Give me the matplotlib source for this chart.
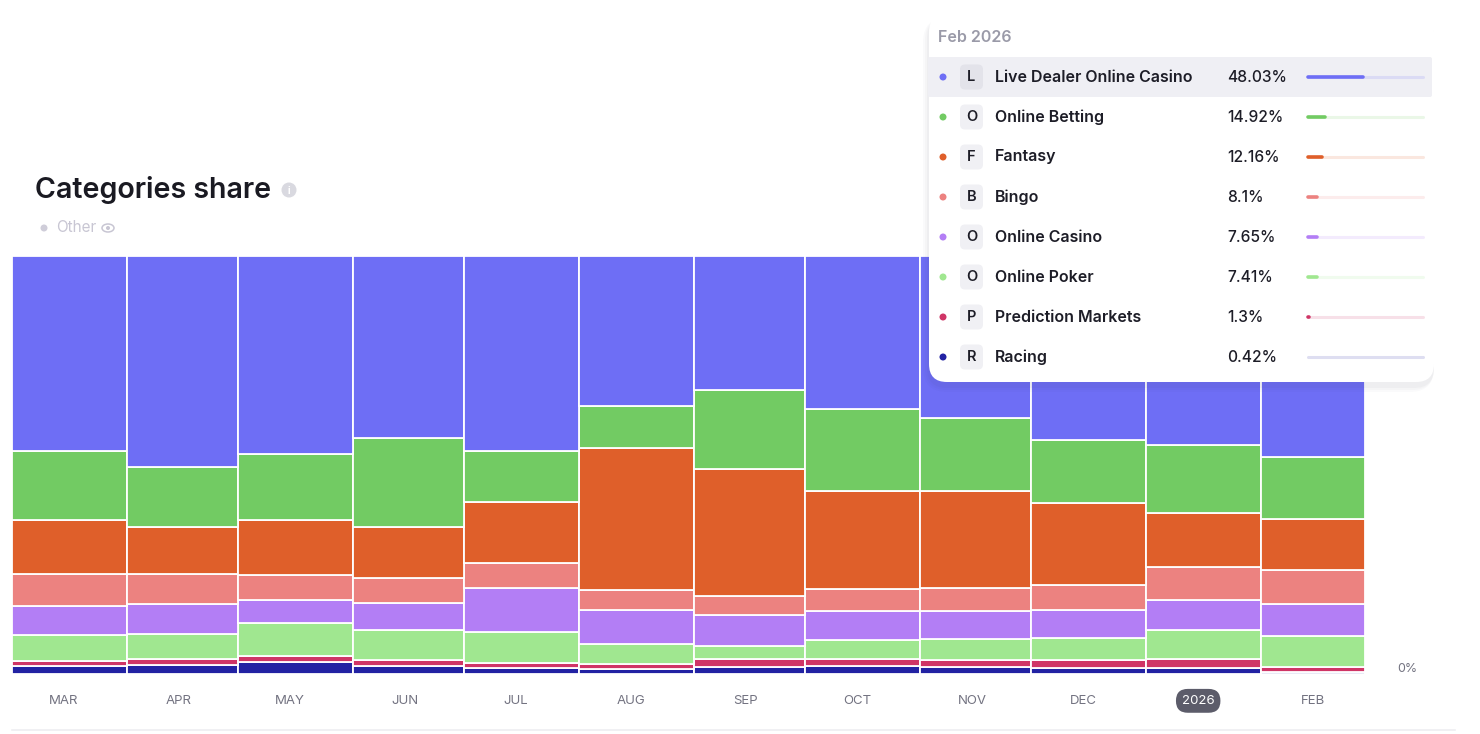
import datetime as dt
import numpy as np
import matplotlib
matplotlib.use("Agg")
import matplotlib.pyplot as plt
import matplotlib.dates as mdates
import matplotlib.transforms as mtransforms
from matplotlib.patches import FancyBboxPatch, Circle, Ellipse

plt.rcParams['font.family'] = ['Inter', 'DejaVu Sans']

# ---- data (share in %, Mar 2025 .. Feb 2026) ----
month_starts = [dt.date(2025, m, 1) for m in range(3, 13)] + [dt.date(2026, 1, 1), dt.date(2026, 2, 1)]
period_end = dt.date(2026, 3, 1)
month_labels = ["MAR", "APR", "MAY", "JUN", "JUL", "AUG", "SEP", "OCT", "NOV", "DEC", "2026", "FEB"]

racing        = [1.8, 2.1, 2.9, 2.0, 1.4, 1.1, 1.7, 1.9, 1.7, 1.5, 1.4, 0.42]
prediction    = [1.2, 1.4, 1.4, 1.4, 1.3, 1.2, 1.9, 1.7, 1.7, 1.8, 2.2, 1.3]
online_poker  = [6.4, 6.0, 7.9, 7.2, 7.3, 4.8, 3.1, 4.5, 5.0, 5.3, 6.9, 7.41]
online_casino = [6.9, 7.3, 5.6, 6.3, 10.6, 8.1, 7.5, 6.9, 6.6, 6.6, 7.2, 7.65]
bingo         = [7.6, 7.2, 6.0, 6.0, 6.0, 4.8, 4.5, 5.3, 5.6, 6.1, 7.9, 8.1]
fantasy       = [13.0, 11.3, 13.0, 12.3, 14.5, 34.1, 30.2, 23.4, 23.1, 19.5, 12.8, 12.16]
online_bet    = [16.4, 14.4, 15.9, 21.3, 12.1, 10.0, 18.8, 19.7, 17.5, 15.1, 16.3, 14.92]
live_dealer   = [46.8, 50.5, 47.4, 43.6, 46.7, 35.9, 32.1, 36.6, 38.8, 43.9, 45.2, 48.03]

# bottom -> top
series = [racing, prediction, online_poker, online_casino, bingo, fantasy, online_bet, live_dealer]
colors = ["#2222A3", "#CF3566", "#A0E790", "#B37EF5", "#EC8280", "#DF5F2A", "#72CB63", "#6E6EF5"]

# tooltip (Feb 2026), top -> bottom
tip_names = ["Live Dealer Online Casino", "Online Betting", "Fantasy", "Bingo",
             "Online Casino", "Online Poker", "Prediction Markets", "Racing"]
tip_letters = ["L", "O", "F", "B", "O", "O", "P", "R"]
tip_labels = ["48.03%", "14.92%", "12.16%", "8.1%", "7.65%", "7.41%", "1.3%", "0.42%"]
tip_values = [s[-1] for s in series[::-1]]
tip_colors = colors[::-1]

W, H = 1480, 734
fig = plt.figure(figsize=(W / 100, H / 100), dpi=100)
fig.patch.set_facecolor("white")

# ---- stacked share bars (widths follow month lengths) ----
ax = fig.add_axes([12 / W, (H - 674) / H, 1353 / W, 418 / H])
vals = np.array(series, dtype=float)
vals = vals / vals.sum(axis=0) * 100
left = mdates.date2num(month_starts)
right = mdates.date2num(month_starts[1:] + [period_end])
widths = right - left
bottom = np.zeros(len(month_starts))
for v, c in zip(vals, colors):
    ax.bar(left, v, width=widths, bottom=bottom, align="edge", color=c,
           edgecolor="white", linewidth=1.3)
    bottom += v

ax.set_xlim(left[0], right[-1])
ax.set_ylim(0, 100)
for s in ax.spines.values():
    s.set_visible(False)
ax.set_yticks([])
# month labels sit on the 15th
ax.set_xticks(left + 14)
ax.set_xticklabels(month_labels)
ax.tick_params(axis="x", length=0, pad=15, labelsize=9.5, labelcolor="#737381")
for lab in ax.get_xticklabels():
    if lab.get_text() == "2026":
        lab.set_color("white")
        lab.set_bbox(dict(boxstyle="round,pad=0.45,rounding_size=0.9", fc="#5C5C6A", ec="none"))

ax.text(1.0, 0, "0%", transform=mtransforms.offset_copy(ax.transAxes, fig, x=32, y=5, units="dots"),
        ha="left", va="center", fontsize=9, color="#737381")

# ---- overlay in pixel coordinates ----
ov = fig.add_axes([0, 0, 1, 1], zorder=10)
ov.set_xlim(0, W)
ov.set_ylim(H, 0)
ov.axis("off")
ov.patch.set_alpha(0)

# title + legend
ov.text(35, 190, "Categories share", fontsize=20.6, fontweight="semibold", color="#1A1A22",
        ha="left", va="center")
ov.add_patch(Circle((289, 190), 7.5, fc="#D9D9E0", ec="none"))
ov.text(289, 190.5, "i", fontsize=7, fontweight="bold", color="white", ha="center", va="center")
ov.add_patch(Circle((44, 228), 3.5, fc="#CFCDD9", ec="none"))
ov.text(56, 228, "Other", fontsize=11, color="#C8C6D3", ha="left", va="center")
ov.add_patch(Ellipse((108, 228), 12, 8, fc="none", ec="#C8C6D3", lw=1.1))
ov.add_patch(Circle((108, 228), 2, fc="#C8C6D3", ec="none"))

# bottom rule
ov.plot([12, 1455], [730, 730], color="#EEEEF1", lw=1.2)

# tooltip box with soft shadow (mostly below/left)
for i, a in enumerate([0.02, 0.025, 0.03]):
    g = 6 - i * 2
    ov.add_patch(FancyBboxPatch((929 - g, 14 + 4), 505 + g, 368 + g,
                                boxstyle="round,pad=0,rounding_size=%d" % (18 + g),
                                fc="#30304A", ec="none", alpha=a))
ov.add_patch(FancyBboxPatch((929, 14), 505, 368, boxstyle="round,pad=0,rounding_size=18",
                            fc="white", ec="none"))
ov.text(938, 38, "Feb 2026", fontsize=11.5, color="#9A9AA8", fontweight="semibold",
        ha="left", va="center")

row_y0, row_step = 77, 40
track_x0, track_w = 1308, 115
for i, (name, letter, lab, val, c) in enumerate(zip(tip_names, tip_letters, tip_labels,
                                                      tip_values, tip_colors)):
    y = row_y0 + i * row_step
    if i == 0:
        ov.add_patch(FancyBboxPatch((928, y - 20), 504, 40, boxstyle="round,pad=0,rounding_size=2",
                                    fc="#EFEFF4", ec="none"))
    ov.add_patch(Circle((943, y), 3.5, fc=c, ec="none"))
    ov.add_patch(FancyBboxPatch((960, y - 12.5), 23, 25, boxstyle="round,pad=0,rounding_size=5",
                                fc="#E3E3EA" if i == 0 else "#F0F0F4", ec="none"))
    ov.text(971.5, y, letter, fontsize=10.5, fontweight="semibold", color="#1D1D27",
            ha="center", va="center")
    ov.text(995, y, name, fontsize=11.5, fontweight="semibold", color="#1D1D27",
            ha="left", va="center")
    ov.text(1227, y, lab, fontsize=11.2, fontweight="medium", color="#1D1D27",
            ha="left", va="center")
    ov.plot([track_x0, track_x0 + track_w], [y, y], color=c, alpha=0.15, lw=2.2,
            solid_capstyle="round")
    ov.plot([track_x0, track_x0 + track_w * val / 100], [y, y], color=c, lw=2.6,
            solid_capstyle="round")

fig.savefig("out.png", dpi=100, facecolor="white")
